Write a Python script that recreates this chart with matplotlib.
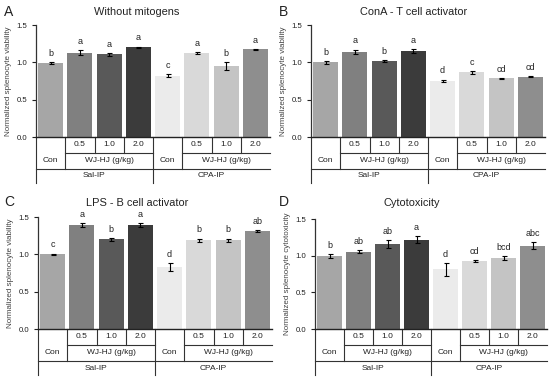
import matplotlib
matplotlib.use("Agg")
import matplotlib.pyplot as plt
from matplotlib.transforms import blended_transform_factory

plt.rcParams['font.family'] = ['Liberation Sans', 'DejaVu Sans']

# ---- data ----
dose_labels = ["0.5", "1.0", "2.0"]
con_label = "Con"
extract_label = "WJ-HJ (g/kg)"
treatments = ["Sal-IP", "CPA-IP"]

bar_colors = ["#a6a6a6", "#808080", "#595959", "#3b3b3b",
              "#ebebeb", "#d9d9d9", "#c4c4c4", "#8e8e8e"]

titles = ["Without mitogens", "ConA - T cell activator",
          "LPS - B cell activator", "Cytotoxicity"]
panel_letters = ["A", "B", "C", "D"]
ylabels = ["Normalized splenocyte viability", "Normalized splenocyte viability",
           "Normalized splenocyte viability", "Normalized splenocyte cytotoxicity"]

A_values = [0.99, 1.13, 1.107, 1.20, 0.82, 1.125, 0.95, 1.175]
A_errors = [0.01, 0.03, 0.02, 0.01, 0.02, 0.015, 0.055, 0.005]
A_letters = ["b", "a", "a", "a", "c", "a", "b", "a"]

B_values = [1.00, 1.14, 1.02, 1.15, 0.75, 0.865, 0.785, 0.81]
B_errors = [0.02, 0.03, 0.015, 0.025, 0.02, 0.02, 0.005, 0.008]
B_letters = ["b", "a", "b", "a", "d", "c", "cd", "cd"]

C_values = [1.00, 1.39, 1.20, 1.39, 0.83, 1.19, 1.19, 1.31]
C_errors = [0.01, 0.03, 0.015, 0.025, 0.05, 0.02, 0.02, 0.01]
C_letters = ["c", "a", "b", "a", "d", "b", "b", "ab"]

D_values = [1.00, 1.055, 1.157, 1.216, 0.813, 0.931, 0.964, 1.137]
D_errors = [0.025, 0.025, 0.055, 0.05, 0.085, 0.012, 0.025, 0.045]
D_letters = ["b", "ab", "ab", "a", "d", "cd", "bcd", "abc"]

yticks = [0.0, 0.5, 1.0, 1.5]

TXT = "#222222"
W, H = 550, 380
fig = plt.figure(figsize=(W / 100, H / 100), dpi=100)

# axes rectangles in pixels: (left, right, top, zero-line)
rects = [(36, 270, 25, 137), (311, 545, 25, 137),
         (38, 272, 217, 329), (315, 547, 219, 329)]
title_pos = [(137, 12), (414, 12), (137, 203), (412, 203)]
letter_pos = [(4, 12), (279, 12), (4, 202), (279, 202)]

datasets = [(A_values, A_errors, A_letters), (B_values, B_errors, B_letters),
            (C_values, C_errors, C_letters), (D_values, D_errors, D_letters)]

for i, (vals, errs, lets) in enumerate(datasets):
    l, r, t, z = rects[i]
    ax = fig.add_axes([l / W, 1 - z / H, (r - l) / W, (z - t) / H])
    n = len(vals)
    xs = list(range(n))
    ax.bar(xs, vals, width=0.86, color=bar_colors, edgecolor='none', zorder=2)
    ax.errorbar(xs, vals, yerr=errs, fmt='none', ecolor='black',
                elinewidth=0.8, capsize=1.8, capthick=0.8, zorder=3)
    for x, v, e, s in zip(xs, vals, errs, lets):
        ax.annotate(s, (x, v + e), xytext=(0, 3.0), textcoords='offset points',
                    ha='center', va='bottom', fontsize=6.5, color=TXT)
    ax.set_xlim(-0.5, n - 0.5)
    ax.set_ylim(0, 1.5)
    ax.set_yticks(yticks)
    ax.set_yticklabels([f"{v:.1f}" for v in yticks])
    ax.tick_params(axis='y', labelsize=5.6, length=2.7, width=0.8,
                   pad=3.5, colors=TXT, direction='out')
    ax.tick_params(axis='x', bottom=False, labelbottom=False)
    for s in ['top', 'right']:
        ax.spines[s].set_visible(False)
    ax.spines['left'].set_linewidth(0.9)
    ax.spines['bottom'].set_linewidth(1.0)
    ax.spines['left'].set_color('#333333')
    ax.spines['bottom'].set_color('#222222')
    ax.set_ylabel(ylabels[i], fontsize=5.8, color='#444444', labelpad=3)

    # table below axis
    hpx = z - t
    r1 = 16 / hpx
    r2 = 32 / hpx
    r3 = 46 / hpx
    tr = blended_transform_factory(ax.transData, ax.transAxes)
    lk = dict(color='#333333', lw=0.8, transform=tr, clip_on=False)
    ax.plot([-0.5, -0.5], [0, -r3], **lk)
    for g in range(2):
        base = g * 4
        ax.plot([base + 0.5] * 2, [0, -r2], **lk)
        ax.plot([base + 1.5] * 2, [0, -r1], **lk)
        ax.plot([base + 2.5] * 2, [0, -r1], **lk)
        if g == 0:
            ax.plot([base + 3.5] * 2, [0, -r3], **lk)
        ax.plot([base + 0.5, base + 3.5], [-r1, -r1], **lk)
    ax.plot([-0.5, n - 0.5], [-r2, -r2], **lk)

    tk = dict(transform=tr, ha='center', va='center', fontsize=6.0, color=TXT,
              clip_on=False)
    for g in range(2):
        base = g * 4
        for k, d in enumerate(dose_labels):
            ax.text(base + 1 + k, -r1 / 2, d, **tk)
        ax.text(base, -(r1 + r2) / 2, con_label, **tk)
        ax.text(base + 2, -(r1 + r2) / 2, extract_label, **tk)
        ax.text(base + 1.5, -(r2 + r3) / 2, treatments[g], **tk)

    tx, ty = title_pos[i]
    fig.text(tx / W, 1 - ty / H, titles[i], ha='center', va='center',
             fontsize=7.9, color=TXT)
    lx, ly = letter_pos[i]
    fig.text(lx / W, 1 - ly / H, panel_letters[i], ha='left', va='center',
             fontsize=10, color=TXT)

fig.savefig("out.png", dpi=100)
